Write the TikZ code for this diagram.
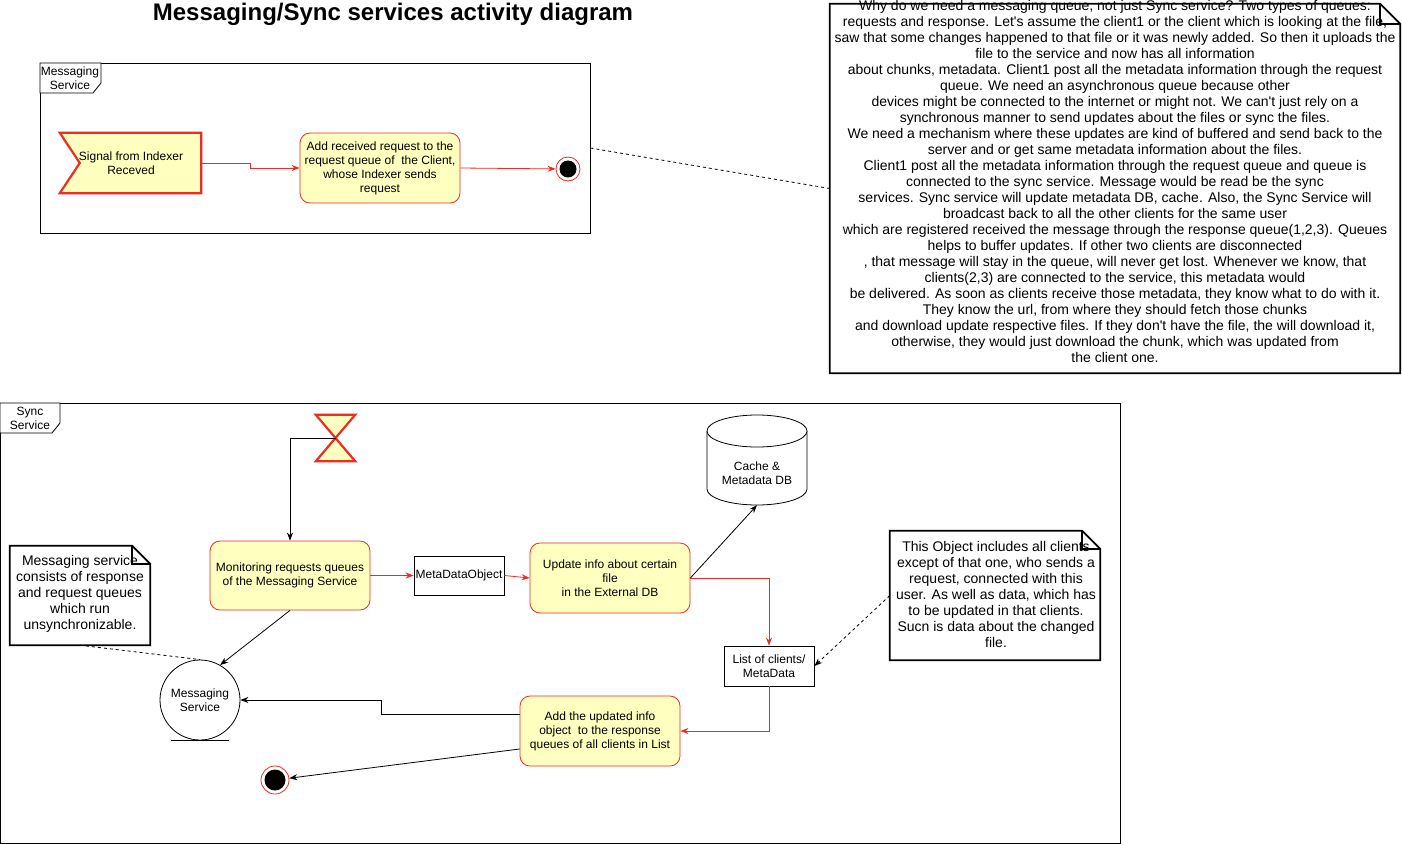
\documentclass[tikz,border=0pt]{standalone}
\usepackage{fontspec}
\setmainfont{Liberation Sans}
\usetikzlibrary{arrows.meta,calc}
\definecolor{myred}{RGB}{235,45,35}
\definecolor{myyellow}{RGB}{255,255,192}
\tikzset{
  action/.style={draw=myred,fill=myyellow,rounded corners=10pt,minimum width=160pt,align=center,inner sep=0pt,font=\fontsize{12}{14}\selectfont,line width=0.8pt},
  objbox/.style={draw=black,fill=white,align=center,inner sep=0pt,line width=0.8pt},
  ghost/.style={draw=none,inner sep=0pt,align=center},
  notebd/.style={draw=black,fill=white,line width=1.8pt},
  notefont/.style={font=\fontsize{14}{16}\selectfont},
  redarr/.style={draw=myred,line width=0.8pt,-{Stealth[length=8pt,width=6pt]}},
  blkarr/.style={draw=black,line width=0.8pt,-{Stealth[length=8pt,width=6pt]}},
  thinframe/.style={draw=black,line width=0.8pt},
}
\begin{document}
\begin{tikzpicture}[x=1pt,y=-1pt]
\useasboundingbox[fill=white] (0,0) rectangle (1402,844);

% title
\node[ghost,font=\fontsize{24}{28}\selectfont\bfseries] (title) at (393,14) {Messaging/Sync services activity diagram};

% ---------- top frame ----------
\node[thinframe,minimum width=550pt,minimum height=170pt,inner sep=0pt] (f1) at (315,148) {};
\draw[thinframe,fill=white] (40,63) -- (101,63) -- (101,83) -- (93,93) -- (40,93) -- cycle;
\node[ghost,font=\fontsize{12}{14}\selectfont] (f1lab) at (70,78) {Messaging\\Service};

% signal
\node[ghost,minimum width=141pt,minimum height=60pt] (sig) at (130.5,163) {};
\draw[draw=myred,fill=myyellow,line width=2.2pt] (sig.north west) -- (sig.north east) -- (sig.south east) -- (sig.south west) -- ($(sig.west)+(20,0)$) -- cycle;
\node[ghost,font=\fontsize{12}{14}\selectfont] (sigtxt) at (131,163) {Signal from Indexer\\Receved};

\node[action,minimum height=70pt] (act1) at (380,168) {Add received request to the\\request queue of \ the Client,\\whose Indexer sends\\request};

\node[circle,draw=myred,fill=white,minimum size=24pt,inner sep=0pt,line width=0.8pt] (fin1) at (568,169) {};
\node[circle,fill=black,minimum size=17pt,inner sep=0pt] (fin1in) at (568,169) {};

\draw[redarr] (sig.east) -- (250,163) -- (250,168) -- (act1.west);
\draw[redarr] (act1.east) -- (fin1);

% big note
\node[ghost,minimum width=570pt,minimum height=369pt] (bn) at (1115,188.5) {};
\draw[notebd] (bn.north west) -- ([xshift=-20pt]bn.north east) -- ([yshift=-20pt]bn.north east) -- (bn.south east) -- (bn.south west) -- cycle;
\draw[black,line width=1.8pt] ([xshift=-20pt]bn.north east) -- ([xshift=-20pt,yshift=-20pt]bn.north east) -- ([yshift=-20pt]bn.north east);
\node[ghost,notefont] (bntxt) at (1115,181.5) {Why do we need a messaging queue, not just Sync service? Two types of queues:\\
requests and response. Let\textquotesingle s assume the client1 or the client which is looking at the file,\\
saw that some changes happened to that file or it was newly added. So then it uploads the\\
file to the service and now has all information\\
about chunks, metadata. Client1 post all the metadata information through the request\\
queue. We need an asynchronous queue because other\\
devices might be connected to the internet or might not. We can\textquotesingle t just rely on a\\
synchronous manner to send updates about the files or sync the files.\\
We need a mechanism where these updates are kind of buffered and send back to the\\
server and or get same metadata information about the files.\\
Client1 post all the metadata information through the request queue and queue is\\
connected to the sync service. Message would be read be the sync\\
services. Sync service will update metadata DB, cache. Also, the Sync Service will\\
broadcast back to all the other clients for the same user\\
which are registered received the message through the response queue(1,2,3). Queues\\
helps to buffer updates. If other two clients are disconnected\\
, that message will stay in the queue, will never get lost. Whenever we know, that\\
clients(2,3) are connected to the service, this metadata would\\
be delivered. As soon as clients receive those metadata, they know what to do with it.\\
They know the url, from where they should fetch those chunks\\
and download update respective files. If they don\textquotesingle t have the file, the will download it,\\
otherwise, they would just download the chunk, which was updated from\\
the client one.};

\draw[black,line width=0.8pt,dashed] (f1.east) -- (bn.west);

% ---------- bottom frame ----------
\node[thinframe,minimum width=1120pt,minimum height=440pt,inner sep=0pt] (f2) at (560,623) {};
\draw[thinframe,fill=white] (0,403) -- (60,403) -- (60,423) -- (52,433) -- (0,433) -- cycle;
\node[ghost,font=\fontsize{12}{14}\selectfont] (f2lab) at (30,418) {Sync\\Service};

% hourglass
\node[ghost,minimum width=39pt,minimum height=46pt] (hg) at (335.5,438) {};
\draw[draw=myred,fill=myyellow,line width=2.2pt,line join=miter] (hg.north west) -- (hg.north east) -- (hg.south west) -- (hg.south east) -- cycle;

\node[action,minimum height=69pt] (mon) at (290,575.5) {Monitoring requests queues\\of the Messaging Service};
\node[objbox,minimum width=90pt,minimum height=39pt,font=\fontsize{12}{14}\selectfont] (mdo) at (459,575.5) {MetaDataObject};
\node[action,minimum height=70pt] (upd) at (610,578) {Update info about certain\\file\\in the External DB};

% cylinder
\node[ghost,minimum width=100pt,minimum height=90pt] (db) at (757,460) {};
\draw[black,line width=0.8pt,fill=white] (707,431) -- (707,489) arc[start angle=180,end angle=360,x radius=50pt,y radius=16pt] -- (807,431);
\draw[black,line width=0.8pt,fill=white] (757,431) ellipse [x radius=50pt,y radius=16pt];
\node[ghost,font=\fontsize{12}{14}\selectfont] (dbtxt) at (757,473) {Cache \&\\Metadata DB};

\node[objbox,minimum width=90pt,minimum height=40pt,font=\fontsize{12}{14}\selectfont] (lst) at (769,666) {List of clients/\\MetaData};

% note 2
\node[ghost,minimum width=210pt,minimum height=129pt] (n2) at (995,595.5) {};
\draw[notebd] (n2.north west) -- ([xshift=-18pt]n2.north east) -- ([yshift=-18pt]n2.north east) -- (n2.south east) -- (n2.south west) -- cycle;
\draw[black,line width=1.8pt] ([xshift=-18pt]n2.north east) -- ([xshift=-18pt,yshift=-18pt]n2.north east) -- ([yshift=-18pt]n2.north east);
\node[ghost,notefont] (n2txt) at (996,594) {This Object includes all clients\\except of that one, who sends a\\request, connected with this\\user. As well as data, which has\\to be updated in that clients.\\Sucn is data about the changed\\file.};

\node[action,minimum height=70pt] (add) at (600,731) {Add the updated info\\object \ to the response\\queues of all clients in List};

% messaging service entity
\node[circle,draw=black,fill=white,minimum size=80pt,inner sep=0pt,line width=0.8pt,align=center,font=\fontsize{12}{14}\selectfont] (ms) at (200,700) {Messaging\\Service};
\draw[black,line width=0.8pt] ([xshift=-29pt]ms.south) -- ([xshift=29pt]ms.south);

% note 1
\node[ghost,minimum width=140pt,minimum height=99pt] (n1) at (80,595.5) {};
\draw[notebd] (n1.north west) -- ([xshift=-18pt]n1.north east) -- ([yshift=-18pt]n1.north east) -- (n1.south east) -- (n1.south west) -- cycle;
\draw[black,line width=1.8pt] ([xshift=-18pt]n1.north east) -- ([xshift=-18pt,yshift=-18pt]n1.north east) -- ([yshift=-18pt]n1.north east);
\node[ghost,notefont] (n1txt) at (80,594) {Messaging service\\consists of response\\and request queues\\which run\\unsynchronizable.};

% final node 2
\node[circle,draw=myred,fill=white,minimum size=28pt,inner sep=0pt,line width=0.8pt] (fin2) at (275,780) {};
\node[circle,fill=black,minimum size=21pt,inner sep=0pt] (fin2in) at (275,780) {};

% connectors
\draw[blkarr] (hg.center) -| (mon.north);
\draw[redarr] (mon.east) -- (mdo.west);
\draw[redarr] (mdo.east) -- (upd.west);
\draw[blkarr] (upd.east) -- (db.south);
\draw[redarr] (upd.east) -| (lst.north);
\draw[black,line width=0.8pt,dashed,-{Stealth[length=8pt,width=6pt]}] (n2.west) -- (lst.east);
\draw[redarr] (lst.south) |- (add.east);
\draw[blkarr] ([yshift=17pt]add.west) -- (381,714) -- (381,700) -- (ms.east);
\draw[blkarr] ([yshift=-18pt]add.west) -- (fin2);
\draw[blkarr] (mon.south) -- (ms.60);
\draw[black,line width=0.8pt,dashed] (n1.south) -- (ms.north);
\end{tikzpicture}
\end{document}
